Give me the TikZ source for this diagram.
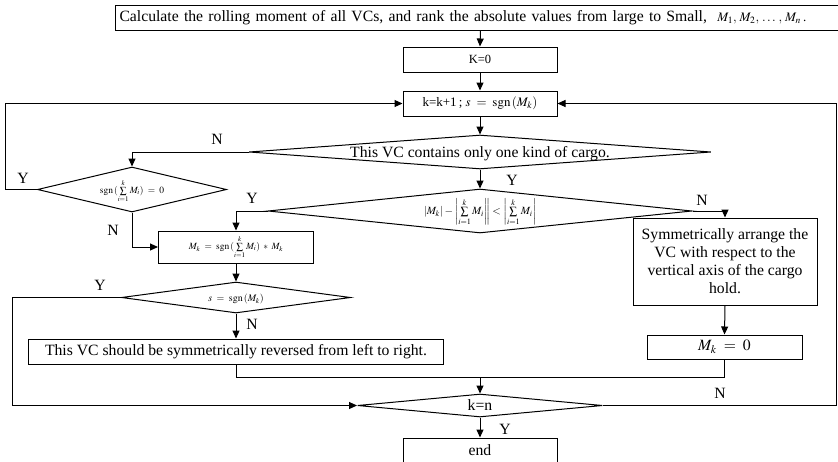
\documentclass[tikz,border=0pt]{standalone}
\usepackage{mathptmx}
\usepackage{fontspec}
\setmainfont{Liberation Serif}
\usetikzlibrary{shapes.geometric,arrows.meta}
\newcommand{\squash}[2][-.33em]{\makebox[0pt]{\raisebox{#1}[0pt][0pt]{#2}}}

\begin{document}
\begin{tikzpicture}[x=1pt, y=-1pt, line width=1pt, >={Triangle[length=8pt,width=7pt]}]
\tikzstyle{txt}=[font=\fontsize{15.7}{18}\selectfont]
\tikzstyle{box}=[rectangle, draw, inner sep=0pt, txt]
\tikzstyle{dia}=[diamond, draw, inner sep=0pt, txt]
\tikzstyle{lbl}=[inner sep=0pt, txt]
\path[use as bounding box, clip] (0,0) rectangle (838,461);
\node[box, anchor=west, minimum height=25pt, text width=722pt, inner xsep=4pt, align=left] (calc) at (115,17.5)
  {Calculate the rolling moment of all VCs, and rank the absolute values from large to Small,\ \ {\fontsize{13}{14}\selectfont$M_1,\,M_2,\,\ldots\,,\,M_n$\,.}};
\node[box, minimum width=154pt, minimum height=25pt] (K0) at (480,59.5) {\fontsize{12.5}{14}\selectfont K=0};
\node[box, minimum width=154pt, minimum height=25pt] (loop) at (480,103.5) {\fontsize{13}{14}\selectfont k=k+1\,;\ $s\;=\;\mathrm{sgn}\,(M_k)$};
\node[dia, minimum width=462pt, minimum height=34pt] (d1) at (480,152) {\squash{This VC contains only one kind of cargo.}};
\node[dia, minimum width=189pt, minimum height=45pt] (d2) at (132,189.5) {\squash[-.25em]{\fontsize{9.5}{11}\selectfont $\mathrm{sgn}\,(\sum\limits_{i=1}^{k} M_i)\;=\;0$}};
\node[dia, minimum width=424pt, minimum height=44pt] (d3) at (480,211) {\squash[-.25em]{\fontsize{11}{12}\selectfont $\left|M_k\right| - \left|\sum\limits_{i=1}^{k} M_i\right\| < \left|\sum\limits_{i=1}^{k} M_i\right|$}};
\node[box, minimum width=155pt, minimum height=32pt] (b3) at (236,247) {\fontsize{9.5}{11}\selectfont $M_k\;=\;\mathrm{sgn}\,(\sum\limits_{i=1}^{k} M_i)\;*\;M_k$};
\node[box, minimum width=184pt, minimum height=87pt, align=center] (b4) at (725,261.5)
  {Symmetrically arrange the\\VC with respect to the\\vertical axis of the cargo\\hold.};
\node[dia, minimum width=229pt, minimum height=31pt] (d4) at (236,297.5) {\squash[-.25em]{\fontsize{10}{12}\selectfont $s\;=\;\mathrm{sgn}\,(M_k)$}};
\node[box, minimum width=415pt, minimum height=25pt] (b5) at (236,351.5) {This VC should be symmetrically reversed from left to right.};
\node[box, minimum width=155pt, minimum height=24pt] (b6) at (724.5,347) {$M_k\;=\;0$};
\node[dia, minimum width=245pt, minimum height=23pt] (d5) at (480,405.5) {\squash{k=n}};
\node[box, minimum width=154pt, minimum height=25pt] (stop) at (480,450.5) {end};
%corners of the loops
\coordinate (lft1) at (5,103.5);
\coordinate (lft2) at (12,405.5);
\coordinate (rgt) at (836,103.5);
\coordinate (join) at (480,377);
\foreach \i/\j in {calc/K0,K0/loop,loop/d1,d1/d3,b3/d4,d4/b5,b4/b6,d5/stop}{\draw[->] (\i.south) -- (\j.north);}
\draw[->] (d1.west) -| (d2.north);
\draw[->] (d2.west) -| (lft1) -- (loop.west);
\draw[->] (d2.south) |- (b3.west);
\draw[->] (d3.west) -| (b3.north);
\draw[->] (d3.east) -| (b4.north);
\draw[->] (d4.west) -| (lft2) -- (d5.west);
\draw (b5.south) |- (join);
\draw (b6.south) |- (join);
\draw[->] (join) -- (d5.north);
\draw[->] (d5.east) -| (rgt) -- (loop.east);
\foreach \t/\x/\y [count=\n] in {N/217/139,Y/23/178,N/113/230,Y/512/180,Y/252/198,N/702/200,Y/100/285,N/252/324,N/720/393,Y/505/429}{\node[lbl] (lbl\n) at (\x,\y) {\t};}
\end{tikzpicture}
\end{document}
